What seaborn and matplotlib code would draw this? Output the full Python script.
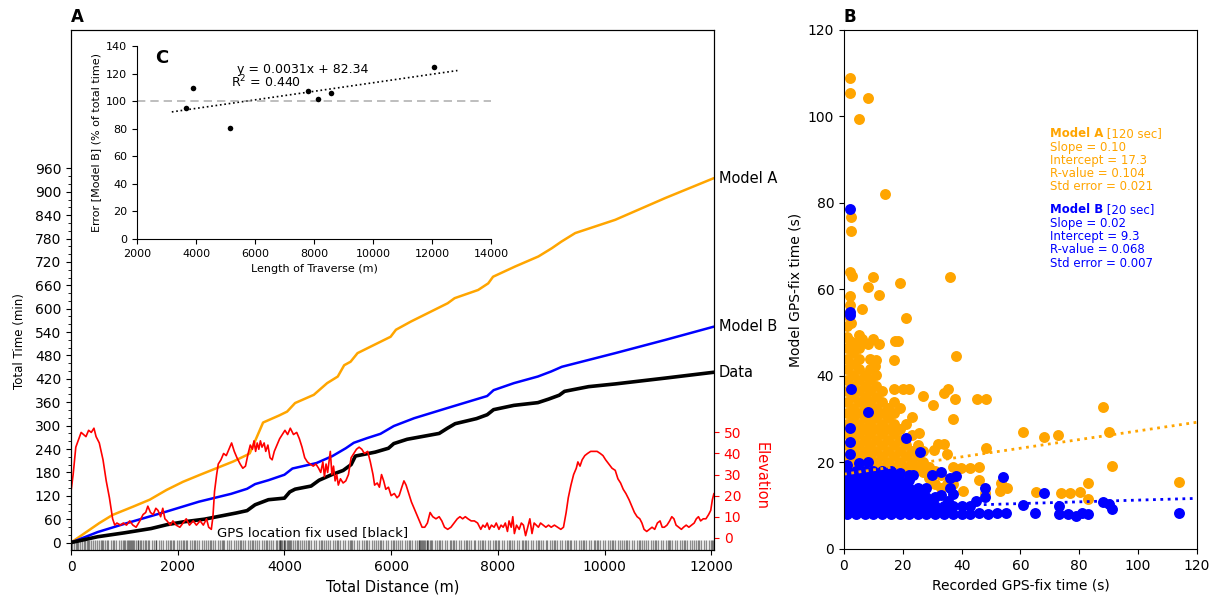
import numpy as np
import matplotlib
matplotlib.use('Agg')
import matplotlib.pyplot as plt
import seaborn as sns

sns.set_style('ticks')
plt.rcParams['font.family'] = ['DejaVu Sans']
plt.rcParams['text.color'] = 'black'
plt.rcParams['axes.labelcolor'] = 'black'
plt.rcParams['xtick.color'] = 'black'
plt.rcParams['ytick.color'] = 'black'
plt.rcParams['axes.edgecolor'] = 'black'

# 누적 시간 (A)
modelA_dist = [0, 530, 780, 1160, 1475, 1790, 2100, 2420, 2730, 3040, 3300, 3350, 3480, 3600,
               3900, 4050, 4200, 4550, 4800, 5000, 5120, 5240, 5370, 5620, 5990, 6090, 6370,
               7060, 7190, 7630, 7820, 7910, 8320, 8760, 9010, 9190, 9450, 10200, 11140, 12050]
modelA_time = [0, 50, 71, 92, 110, 135, 156, 174, 191, 208, 225, 229, 270, 308,
               326, 336, 358, 379, 409, 426, 455, 464, 486, 503, 528, 546, 567,
               614, 627, 648, 665, 682, 708, 734, 755, 772, 794, 828, 884, 935]

modelB_dist = [0, 500, 1000, 1500, 1800, 2400, 3000, 3300, 3450, 3700, 4000, 4150, 4600, 4900,
               5150, 5300, 5550, 5800, 6050, 6430, 7050, 7800, 7920, 8300, 8750, 9000, 9200,
               10200, 11140, 12050]
modelB_time = [0, 27, 48, 68, 80, 105, 125, 138, 150, 160, 174, 190, 204, 222,
               242, 256, 268, 279, 299, 319, 345, 376, 391, 409, 426, 439, 451,
               486, 520, 554]

data_dist = [0, 500, 1000, 1500, 1800, 2100, 2500, 2800, 3100, 3300, 3450, 3700, 4000, 4100,
             4200, 4500, 4650, 4900, 5100, 5250, 5330, 5700, 5950, 6050, 6300, 6900, 7050,
             7200, 7600, 7800, 7920, 8300, 8750, 8950, 9150, 9250, 9700, 10200, 11140, 12050]
data_time = [0, 15, 25, 36, 46, 53, 60, 68, 76, 82, 97, 110, 114, 130,
             137, 145, 160, 175, 185, 200, 222, 232, 242, 254, 265, 280, 293,
             305, 318, 328, 341, 352, 359, 368, 378, 388, 400, 407, 422, 437]

elev_dist = [0, 40, 90, 190, 280, 330, 380, 430, 470, 530, 600, 660, 720, 780, 820, 860, 930, 980,
             1040, 1100, 1160, 1220, 1290, 1350, 1400, 1440, 1490, 1540, 1590, 1630, 1680, 1720,
             1760, 1800, 1860, 1910, 1970, 2040, 2100, 2160, 2220, 2290, 2350, 2420, 2480, 2540,
             2580, 2630, 2660, 2690, 2730, 2760, 2810, 2860, 2910, 2960, 3010, 3060, 3110, 3170,
             3220, 3270, 3320, 3360, 3400, 3430, 3460, 3490, 3520, 3550, 3580, 3620, 3650, 3690,
             3730, 3770, 3810, 3860, 3910, 3960, 4010, 4060, 4110, 4170, 4230, 4280, 4330, 4380,
             4430, 4480, 4540, 4590, 4640, 4680, 4720, 4750, 4780, 4810, 4840, 4860, 4890, 4920,
             4950, 4980, 5010, 5050, 5100, 5150, 5200, 5250, 5300, 5350, 5400, 5450, 5500, 5560,
             5610, 5660, 5690, 5740, 5780, 5820, 5860, 5900, 5950, 6000, 6060, 6110, 6150, 6200,
             6240, 6280, 6330, 6380, 6430, 6480, 6530, 6580, 6630, 6680, 6730, 6780, 6840, 6900,
             6950, 7000, 7060, 7120, 7180, 7240, 7290, 7340, 7390, 7440, 7500, 7560, 7620, 7680,
             7720, 7760, 7800, 7840, 7880, 7930, 7970, 8020, 8060, 8100, 8140, 8180, 8210, 8250,
             8280, 8310, 8350, 8400, 8440, 8480, 8520, 8560, 8600, 8640, 8680, 8720, 8760, 8800,
             8850, 8900, 8950, 9000, 9060, 9120, 9180, 9230, 9280, 9320, 9370, 9420, 9470, 9500,
             9540, 9580, 9630, 9680, 9740, 9800, 9860, 9920, 9970, 10020, 10080, 10140, 10200,
             10250, 10300, 10350, 10400, 10460, 10510, 10560, 10610, 10660, 10700, 10740, 10790,
             10840, 10890, 10940, 10990, 11040, 11080, 11120, 11170, 11220, 11260, 11300, 11340,
             11390, 11440, 11480, 11530, 11580, 11630, 11680, 11720, 11760, 11800, 11850, 11900,
             11950, 11990, 12020, 12050]
elev_m = [22, 30, 43, 50, 48, 51, 50, 52, 48, 45, 37, 27, 19, 9, 6, 7, 6, 7,
          6, 8, 6, 5, 8, 11, 12, 15, 12, 11, 14, 13, 10, 14,
          9, 8, 6, 8, 6, 5, 7, 9, 6, 8, 6, 8, 6, 9,
          5, 4, 10, 22, 30, 35, 37, 40, 39, 42, 45, 41, 38, 35,
          33, 34, 40, 44, 42, 46, 41, 45, 42, 46, 43, 45, 41, 44,
          38, 37, 41, 44, 47, 49, 51, 49, 52, 49, 50, 47, 43, 38,
          36, 35, 34, 35, 33, 31, 36, 29, 35, 31, 37, 41, 30, 34,
          27, 30, 25, 28, 26, 27, 30, 38, 40, 42, 43, 42, 40, 41,
          36, 30, 25, 26, 24, 30, 27, 23, 24, 20, 21, 19, 20, 24,
          27, 25, 21, 17, 14, 11, 8, 5, 5, 7, 12, 10, 9, 10,
          8, 5, 4, 5, 7, 9, 10, 9, 10, 9, 8, 8, 7, 4,
          6, 5, 7, 4, 6, 5, 7, 4, 6, 5, 7, 3, 8, 5,
          10, 2, 6, 4, 7, 6, 1, 5, 9, 2, 7, 6, 5, 7,
          6, 5, 6, 5, 6, 5, 4, 5, 12, 19, 25, 30, 33, 36,
          34, 37, 39, 40, 41, 41, 41, 40, 39, 37, 35, 33, 32,
          28, 26, 23, 21, 18, 15, 12, 10, 9, 7, 4, 3,
          4, 5, 4, 7, 8, 5, 5, 6, 8, 10, 9, 6,
          5, 4, 5, 6, 5, 6, 7, 9, 10, 8, 9, 9,
          11, 13, 18, 21]

gps_fix_dist = [0, 25, 60, 85, 130, 165, 200, 235, 270, 300, 345, 375, 415, 450, 490, 530, 560, 605,
                640, 670, 700, 745, 780, 815, 850, 900, 930, 975, 1010, 1050, 1070, 1095, 1130, 1155,
                1190, 1215, 1250, 1290, 1315, 1350, 1400, 1440, 1465, 1520, 1560, 1600, 1655, 1690,
                1720, 1775, 1810, 1850, 1905, 1930, 1985, 2020, 2060, 2115, 2150, 2180, 2235, 2270,
                2325, 2360, 2400, 2455, 2490, 2530, 2565, 2620, 2660, 2700, 2755, 2790, 2825, 2870,
                2925, 2960, 3000, 3055, 3090, 3130, 3185, 3220, 3260, 3315, 3350, 3390, 3445, 3480,
                3520, 3575, 3610, 3650, 3705, 3740, 3780, 3835, 3870, 3900, 3925, 3960, 3985, 4020,
                4045, 4080, 4110, 4155, 4190, 4230, 4285, 4320, 4375, 4410, 4465, 4500, 4555, 4590,
                4645, 4680, 4735, 4770, 4825, 4860, 4915, 4950, 5005, 5040, 5095, 5130, 5185, 5220,
                5275, 5310, 5365, 5400, 5455, 5490, 5545, 5580, 5635, 5670, 5725, 5760, 5815, 5850,
                5905, 5940, 5995, 6030, 6085, 6120, 6175, 6210, 6265, 6300, 6355, 6390, 6445, 6480,
                6520, 6545, 6580, 6605, 6640, 6665, 6700, 6725, 6770, 6825, 6860, 6915, 6950, 7005,
                7040, 7095, 7130, 7185, 7220, 7275, 7310, 7365, 7400, 7455, 7490, 7545, 7580, 7635,
                7670, 7725, 7760, 7815, 7850, 7905, 7940, 7995, 8030, 8085, 8120, 8175, 8210, 8265,
                8300, 8355, 8390, 8445, 8480, 8535, 8570, 8625, 8660, 8715, 8750, 8805, 8840, 8895,
                8930, 8985, 9020, 9075, 9110, 9165, 9200, 9255, 9290, 9345, 9380, 9435, 9470, 9525,
                9560, 9615, 9650, 9705, 9740, 9795, 9830, 9885, 9920, 9975, 10010, 10065, 10100,
                10155, 10190, 10245, 10280, 10335, 10370, 10425, 10460, 10515, 10550, 10605, 10640,
                10695, 10730, 10785, 10820, 10875, 10910, 10965, 11000, 11055, 11090, 11145, 11180,
                11235, 11270, 11325, 11360, 11415, 11450, 11505, 11540, 11595, 11630, 11685, 11720,
                11775, 11810, 11865, 11900, 11955, 11990, 12040,
                110, 320, 590, 1000, 1110, 1140, 1260, 1380, 1590, 1870, 2090, 2300, 2600, 2840,
                3160, 3420, 3680, 3910, 3940, 4000, 4060, 4130, 4260, 4440, 4710, 4990, 5250,
                5520, 5800, 6060, 6330, 6530, 6560, 6620, 6680, 6750, 6890, 7160, 7430, 7700,
                7960, 8230, 8510, 8780, 9050, 9320, 9590, 9860, 10130, 10400, 10670, 10940,
                11210, 11480, 11750, 12010]

# 오차 (C)
traverse_len = [3660, 3910, 5150, 7790, 8140, 8580, 12080]
error_pct = [95.2, 109.8, 80.3, 107.6, 101.3, 105.7, 125.0]
fit_slope, fit_intercept = 0.0031, 82.34
fit_range = [3180, 12860]

# GPS-fix 시간 (B)
modelA_pts = [
    (2, 108.8), (2, 105.4), (8, 104.3), (5, 99.4), (14, 82.0), (2.3, 76.8), (2.3, 73.6),
    (2, 64.1), (2.6, 63.1), (10, 62.8), (36, 62.8), (8, 60.5), (19, 61.4), (12, 58.7), (2, 58.4),
    (2, 56.4), (6, 55.4), (2.4, 52.3), (21, 53.5), (5, 49.5),
    (2, 48), (4, 47.5), (6, 48.5), (8, 47.5), (10, 48.5), (12, 47.5), (17.5, 48), (18.5, 48),
    (38, 44.6), (17, 43.7), (11, 43.7), (10.4, 42.2),
    (1, 19), (1, 21.5), (1, 24), (1, 26.5), (1, 29), (1, 31.5), (1, 34), (1, 36.5), (1, 39),
    (1, 41.5), (1, 44), (1, 46.5), (1, 49), (1, 51.5), (1, 54),
    (3, 20.2), (3, 22.7), (3, 25.2), (3, 27.7), (3, 30.2), (3, 32.7), (3, 35.2), (3, 37.7),
    (3, 40.2), (3, 42.7), (3, 45.2), (3, 47.7),
    (5, 19), (5, 21.5), (5, 24), (5, 26.5), (5, 29), (5, 31.5), (5, 34), (5, 36.5), (5, 39),
    (5, 41.5), (5, 44), (5, 46.5),
    (7, 20.2), (7, 22.7), (7, 25.2), (7, 27.7), (7, 30.2), (7, 32.7), (7, 35.2), (7, 37.7), (7, 40.2),
    (9, 19), (9, 21.5), (9, 24), (9, 26.5), (9, 29), (9, 31.5), (9, 34), (9, 36.5), (9, 39),
    (9, 41.5), (9, 44),
    (11, 20.2), (11, 22.7), (11, 25.2), (11, 27.7), (11, 30.2), (11, 32.7), (11, 35.2), (11, 37.7),
    (11, 40.2),
    (13, 19), (13, 21.5), (13, 24), (13, 26.5), (13, 29), (13, 31.5), (13, 34), (13, 36.5),
    (15, 20.2), (15, 22.7), (15, 25.2), (15, 27.7), (15, 30.2), (15, 32.7),
    (17, 19), (17, 21.5), (17, 24), (17, 26.5), (17, 29), (17, 31.5), (17, 34), (17, 36.9),
    (19, 20.2), (19, 22.7), (19, 25.2), (19, 27.7), (19, 32.7), (20, 36.9),
    (21, 19), (21, 21.5), (21, 24), (21, 29), (22, 36.9),
    (23, 17.7), (23, 20.2), (23, 22.7), (23, 26.4), (23, 30.6),
    (25, 19), (25, 21.5), (25.6, 26.7), (25, 24),
    (27, 17.7), (27, 20.2), (27, 22.7), (27, 35.4),
    (29, 16.5), (29, 19), (30.2, 33.3), (30.6, 23),
    (31, 15), (31, 18), (32, 24.3), (33, 14), (33, 17), (34, 24.3),
    (35, 15), (35, 22), (35.5, 36.9), (34, 36), (37, 15), (37, 19), (37.2, 30), (37.6, 34.6),
    (39.7, 18.7), (40.3, 13.3), (42.8, 18.7), (45.1, 34.7), (45.9, 19), (45.9, 16),
    (48.3, 34.7), (48.3, 23.3), (48, 13), (53.4, 15.2), (53, 13.3), (55.4, 14),
    (61, 27), (65.2, 13.1), (68.1, 25.8), (72.9, 26.4), (73.9, 13.0), (77, 13.0), (80.3, 13.1),
    (83.1, 15.2), (83, 11.6), (88, 32.9), (90.2, 27.1), (91, 19.3), (114, 15.6),
]
modelB_pts = [
    (2, 78.5), (2, 54.9), (2, 54.1), (2.4, 36.9), (8, 31.6), (2, 28), (2, 24.8), (2, 22),
    (8, 20.2), (5, 19.8), (1, 19.5), (21, 25.6), (26, 22.4),
    (1, 8), (1, 10), (1, 12), (1, 14), (1, 16), (1, 18),
    (4, 8), (4, 10), (4, 12), (4, 14), (4, 16), (4, 18),
    (7, 8), (7, 10), (7, 12), (7, 14), (7, 16), (7, 18),
    (10, 8), (10, 10), (10, 12), (10, 14), (10, 16), (10, 18),
    (13, 8), (13, 10), (13, 12), (13, 14), (13, 16), (13, 18),
    (16, 8), (16, 10), (16, 12), (16, 14), (16, 16), (16, 18),
    (19, 8), (19, 10), (19, 12), (19, 14), (19, 16), (19, 17.5),
    (22, 8), (22, 10), (22, 12), (22, 14), (22, 16), (22, 17),
    (25, 8), (25, 10), (25, 12), (25, 14), (23.6, 17.1),
    (28, 8), (28, 10), (28, 12), (28, 14), (30, 17),
    (2.5, 9), (2.5, 11), (2.5, 13), (2.5, 15), (2.5, 17),
    (5.5, 9), (5.5, 11), (5.5, 13), (5.5, 15), (5.5, 17),
    (8.5, 9), (8.5, 11), (8.5, 13), (8.5, 15), (8.5, 17),
    (11.5, 9), (11.5, 11), (11.5, 13), (11.5, 15), (11.5, 17),
    (14.5, 9), (14.5, 11), (14.5, 13), (14.5, 15), (14.5, 17),
    (17.5, 9), (17.5, 11), (17.5, 13), (17.5, 15), (17.5, 17),
    (20.5, 9), (20.5, 11), (20.5, 13), (20.5, 15),
    (23.5, 9), (23.5, 11), (23.5, 13), (26.5, 9), (26.5, 11), (26.5, 13),
    (29.5, 9), (29.5, 11), (32.5, 9), (35.5, 9), (35.5, 11),
    (31, 8), (31, 10), (31, 12), (33, 17.8), (33, 12.5),
    (34, 8), (34, 10), (36, 14), (36, 16.5), (37, 8), (37, 10), (37, 12.8), (38, 16.8),
    (40, 8), (40, 10), (43, 8), (43, 10), (45, 11), (46, 8.3), (48, 14), (48, 12),
    (49, 8), (52, 8.3), (54, 16.7), (55, 8.3),
    (61, 10.2), (65, 8.3), (68, 12.9), (73, 10), (73, 8.1), (76, 8.1), (79, 7.7),
    (81, 8.3), (83, 8.2), (88, 10.8), (90, 10.3), (91, 9.2), (114, 8.4),
]
modelA_fit = (0.10, 17.3)
modelB_fit = (0.02, 9.3)
modelA_stats = ['Slope = 0.10', 'Intercept = 17.3', 'R-value = 0.104', 'Std error = 0.021']
modelB_stats = ['Slope = 0.02', 'Intercept = 9.3', 'R-value = 0.068', 'Std error = 0.007']

fig = plt.figure(figsize=(12.2, 5.96), dpi=100)

# 패널 A
ax = fig.add_axes([0.0582, 0.0772, 0.5270, 0.8725])
sns.lineplot(x=modelA_dist, y=modelA_time, ax=ax, color='orange', lw=1.8)
sns.lineplot(x=modelB_dist, y=modelB_time, ax=ax, color='blue', lw=1.8)
sns.lineplot(x=data_dist, y=data_time, ax=ax, color='black', lw=2.6)
sns.rugplot(x=gps_fix_dist, ax=ax, height=0.019, color='black', alpha=0.45, lw=1.4,
            expand_margins=False)
ax.set_xlim(0, 12050)
ax.set_ylim(-19, 1315)
ax.set_xticks(np.arange(0, 12001, 2000))
ax.set_yticks(np.arange(0, 961, 60))
ax.set_yticks(np.arange(0, 961, 20), minor=True)
ax.tick_params(labelsize=10)
ax.set_xlabel('Total Distance (m)', fontsize=10.5)
ax.set_ylabel('Total Time (min)', fontsize=8.5)
ax.yaxis.set_label_coords(-0.07, 0.402)
ax.set_title('A', loc='left', fontweight='bold', fontsize=12)
ax.text(4535, 26, 'GPS location fix used [black]', ha='center', va='center', fontsize=9.5)
ytr = ax.get_yaxis_transform()
ax.text(1.008, modelA_time[-1], 'Model A', transform=ytr, va='center', fontsize=10.5)
ax.text(1.008, modelB_time[-1], 'Model B', transform=ytr, va='center', fontsize=10.5)
ax.text(1.008, data_time[-1], 'Data', transform=ytr, va='center', fontsize=10.5)

ax2 = ax.twinx()
sns.lineplot(x=elev_dist, y=elev_m, ax=ax2, color='red', lw=1.2)
ax2.set_ylim(-5.8, 241)
ax2.set_yticks(np.arange(0, 51, 10))
ax2.tick_params(axis='y', colors='red', labelsize=10)
ax2.set_ylabel('Elevation', color='red', fontsize=10.5, rotation=270, va='bottom')
ax2.yaxis.set_label_coords(1.061, 0.142)
ax2.set_xlim(0, 12050)

# 패널 C (inset)
axin = fig.add_axes([0.1123, 0.599, 0.2902, 0.3238])
sns.scatterplot(x=traverse_len, y=error_pct, ax=axin, color='black', s=16, linewidth=0, zorder=3)
axin.plot(fit_range, [fit_slope * v + fit_intercept for v in fit_range], color='black', ls=':', lw=1.2)
axin.axhline(100, color='gray', alpha=0.6, ls=(0, (5, 3)), lw=1.2)
axin.set_xlim(2000, 14000)
axin.set_ylim(0, 140)
axin.set_xticks(np.arange(2000, 14001, 2000))
axin.set_yticks(np.arange(0, 141, 20))
axin.tick_params(labelsize=8)
axin.spines['top'].set_visible(False)
axin.spines['right'].set_visible(False)
axin.set_xlabel('Length of Traverse (m)', fontsize=8)
axin.set_ylabel('Error [Model B] (% of total time)', fontsize=8)
axin.text(0.05, 0.94, 'C', transform=axin.transAxes, fontweight='bold', fontsize=13, va='center')
axin.text(5380, 123, 'y = 0.0031x + 82.34', fontsize=9, va='center')
axin.text(5180, 114, 'R$^2$ = 0.440', fontsize=9, va='center')

# 패널 B
bx = fig.add_axes([0.6918, 0.0789, 0.2893, 0.8708])
ax_x, ax_y = zip(*modelA_pts)
bx_x, bx_y = zip(*modelB_pts)
sns.scatterplot(x=list(ax_x), y=list(ax_y), ax=bx, color='orange', s=62, linewidth=0)
sns.scatterplot(x=list(bx_x), y=list(bx_y), ax=bx, color='blue', s=62, linewidth=0)
xs = [0, 120]
bx.plot(xs, [modelA_fit[0] * v + modelA_fit[1] for v in xs], color='orange', ls=':', lw=2)
bx.plot(xs, [modelB_fit[0] * v + modelB_fit[1] for v in xs], color='blue', ls=':', lw=2)
bx.set_xlim(0, 120)
bx.set_ylim(0, 120)
bx.set_xticks(np.arange(0, 121, 20))
bx.set_yticks(np.arange(0, 121, 20))
bx.tick_params(labelsize=10)
bx.set_xlabel('Recorded GPS-fix time (s)', fontsize=10)
bx.set_ylabel('Model GPS-fix time (s)', fontsize=10)
bx.set_title('B', loc='left', fontweight='bold', fontsize=12)

step = 0.0256
for name, extra, stats, color, y0 in [('Model A', ' [120 sec]', modelA_stats, 'orange', 0.800),
                                      ('Model B', ' [20 sec]', modelB_stats, 'blue', 0.6532)]:
    head = bx.text(0.584, y0, name, transform=bx.transAxes, color=color, fontweight='bold',
                   fontsize=8.5, va='center')
    bx.annotate(extra, xy=(1, 0), xycoords=head, color=color, fontsize=8.5, va='bottom')
    for i, line in enumerate(stats):
        bx.text(0.584, y0 - step * (i + 1), line, transform=bx.transAxes, color=color,
                fontsize=8.5, va='center')

fig.savefig('out.png', dpi=100)
